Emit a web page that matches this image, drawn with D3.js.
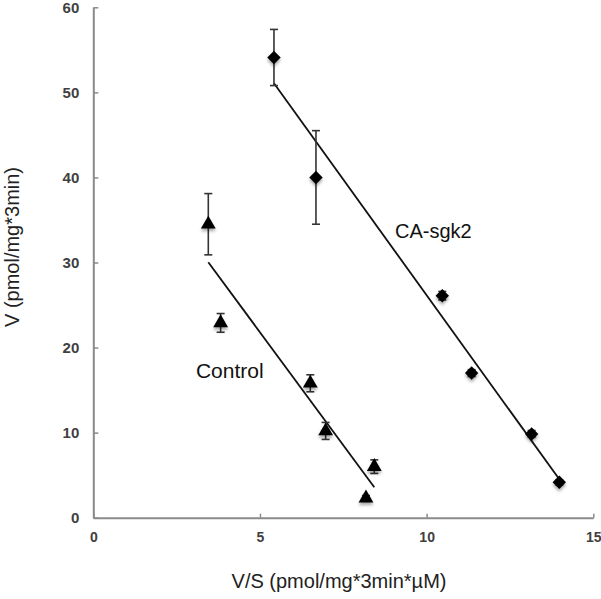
<!DOCTYPE html>
<html>
<head>
<meta charset="utf-8">
<script src="https://cdn.jsdelivr.net/npm/d3@7"></script>
<style>
	body { margin: 0; background: #fff; }
	svg { display: block; font-family: "Liberation Sans", Arial, sans-serif; }
</style>
</head>
<body>
<svg id="chart"></svg>
<script>
// V vs V/S (Eadie-Hofstee style) for control and CA-sgk2
const vsControl = [ 3.45, 3.82, 6.51, 6.97, 8.43, 8.18 ] ;
const vControl = [ 34.5, 22.9, 15.8, 10.2, 6.0, 2.3 ] ;
const errControl = [ 3.6, 1.1, 1.0, 1.0, 0.8, 0.3 ] ;

const vsSgk2 = [ 5.42, 6.68, 10.47, 11.35, 13.15, 13.98 ] ;
const vSgk2 = [ 54.1, 40.0, 26.1, 17.0, 9.85, 4.16 ] ;
const errSgk2 = [ 3.3, 5.5, 0.5, 0.4, 0.4, 0.3 ] ;

const xTicks = [ 0, 5, 10, 15 ] ;
const yTicks = [ 0, 10, 20, 30, 40, 50, 60 ] ;

const seriesNames = [ 'Control', 'CA-sgk2' ] ;

const geom = {
	width: 601,
	height: 599,
	margins: { left: 93.3, right: 7.7, top: 7.3, bottom: 81.3 }
} ;

const x = d3.scaleLinear()
	.domain( [0, 15] )
	.range( [ geom.margins.left, geom.width - geom.margins.right ] ) ;
const y = d3.scaleLinear()
	.domain( [0, 60] )
	.range( [ geom.height - geom.margins.bottom, geom.margins.top ] ) ;

const svg = d3.select( '#chart' )
	.attr( 'width', geom.width )
	.attr( 'height', geom.height ) ;

const defs = svg.append( 'defs' ) ;
defs.append( 'filter' )
	.attr( 'id', 'shadow' )
	.attr( 'x', '-50%' ).attr( 'y', '-50%' )
	.attr( 'width', '200%' ).attr( 'height', '200%' )
	.append( 'feDropShadow' )
	.attr( 'dx', 0 ).attr( 'dy', 2.5 )
	.attr( 'stdDeviation', 1.4 )
	.attr( 'flood-color', '#000' )
	.attr( 'flood-opacity', 0.35 ) ;

// axes
const xAxis = svg.append( 'g' )
	.attr( 'transform', 'translate(0,' + y(0) + ')' )
	.call( d3.axisBottom(x).tickValues(xTicks).tickSizeInner(-4).tickSizeOuter(0).tickPadding(14) ) ;
const yAxis = svg.append( 'g' )
	.attr( 'transform', 'translate(' + x(0) + ',0)' )
	.call( d3.axisLeft(y).tickValues(yTicks).tickSizeInner(-5).tickSizeOuter(0).tickPadding(14) ) ;

[ xAxis, yAxis ].forEach( ax => {
	ax.select( '.domain' ).attr( 'stroke', '#8a8a8a' ).attr( 'stroke-width', 2 ) ;
	ax.selectAll( '.tick line' ).attr( 'stroke', '#8a8a8a' ).attr( 'stroke-width', 1.5 ) ;
	ax.selectAll( '.tick text' )
		.attr( 'fill', '#404040' )
		.attr( 'font-family', '"Liberation Sans", Arial, sans-serif' )
		.attr( 'font-weight', 'bold' ) ;
} ) ;
xAxis.selectAll( '.tick text' ).attr( 'font-size', 14 ) ;
yAxis.selectAll( '.tick text' ).attr( 'font-size', 15 ) ;

// axis titles
svg.append( 'text' )
	.attr( 'x', 339 )
	.attr( 'y', 588 )
	.attr( 'text-anchor', 'middle' )
	.attr( 'font-size', 20 )
	.attr( 'fill', '#222' )
	.text( 'V/S (pmol/mg*3min*\u00b5M)' ) ;
svg.append( 'text' )
	.attr( 'transform', 'translate(19,247) rotate(-90)' )
	.attr( 'text-anchor', 'middle' )
	.attr( 'font-size', 20 )
	.attr( 'fill', '#222' )
	.text( 'V (pmol/mg*3min)' ) ;

function fitLine( xs, ys ) {
	const mx = d3.mean( xs ), my = d3.mean( ys ) ;
	let sxy = 0, sxx = 0 ;
	xs.forEach( (v, i) => {
		sxy += (v - mx) * (ys[i] - my) ;
		sxx += (v - mx) * (v - mx) ;
	} ) ;
	const slope = sxy / sxx ;
	const x0 = d3.min( xs ), x1 = d3.max( xs ) ;
	return [ [ x0, my + slope * (x0 - mx) ], [ x1, my + slope * (x1 - mx) ] ] ;
}

function drawSeries( xs, ys, errs, symbol, size ) {
	const data = xs.map( (v, i) => ({ vs: v, v: ys[i], err: errs[i] }) ) ;
	const g = svg.append( 'g' ) ;

	g.append( 'path' )
		.datum( fitLine( xs, ys ) )
		.attr( 'd', d3.line().x( d => x(d[0]) ).y( d => y(d[1]) ) )
		.attr( 'fill', 'none' )
		.attr( 'stroke', '#111' )
		.attr( 'stroke-width', 1.8 ) ;

	const bars = g.selectAll( 'g.err' )
		.data( data )
		.enter()
		.append( 'g' )
		.attr( 'class', 'err' )
		.attr( 'stroke', '#333' )
		.attr( 'stroke-width', 1.6 ) ;
	bars.append( 'line' )
		.attr( 'x1', d => x(d.vs) ).attr( 'x2', d => x(d.vs) )
		.attr( 'y1', d => y(d.v + d.err) ).attr( 'y2', d => y(d.v - d.err) ) ;
	bars.append( 'line' )
		.attr( 'x1', d => x(d.vs) - 4 ).attr( 'x2', d => x(d.vs) + 4 )
		.attr( 'y1', d => y(d.v + d.err) ).attr( 'y2', d => y(d.v + d.err) ) ;
	bars.append( 'line' )
		.attr( 'x1', d => x(d.vs) - 4 ).attr( 'x2', d => x(d.vs) + 4 )
		.attr( 'y1', d => y(d.v - d.err) ).attr( 'y2', d => y(d.v - d.err) ) ;

	g.selectAll( 'path.pt' )
		.data( data )
		.enter()
		.append( 'path' )
		.attr( 'class', 'pt' )
		.attr( 'd', d3.symbol().type( symbol ).size( size ) )
		.attr( 'transform', d => 'translate(' + x(d.vs) + ',' + y(d.v) + ')' )
		.attr( 'fill', '#000' )
		.attr( 'filter', 'url(#shadow)' ) ;
}

drawSeries( vsControl, vControl, errControl, d3.symbolTriangle, 95 ) ;
drawSeries( vsSgk2, vSgk2, errSgk2, d3.symbolDiamond2, 115 ) ;

// series labels
svg.append( 'text' )
	.attr( 'x', x(3.08) )
	.attr( 'y', y(16.4) )
	.attr( 'font-size', 21 )
	.attr( 'fill', '#111' )
	.text( seriesNames[0] ) ;
svg.append( 'text' )
	.attr( 'x', x(9.05) )
	.attr( 'y', y(32.9) )
	.attr( 'font-size', 20 )
	.attr( 'fill', '#111' )
	.text( seriesNames[1] ) ;
</script>
</body>
</html>
